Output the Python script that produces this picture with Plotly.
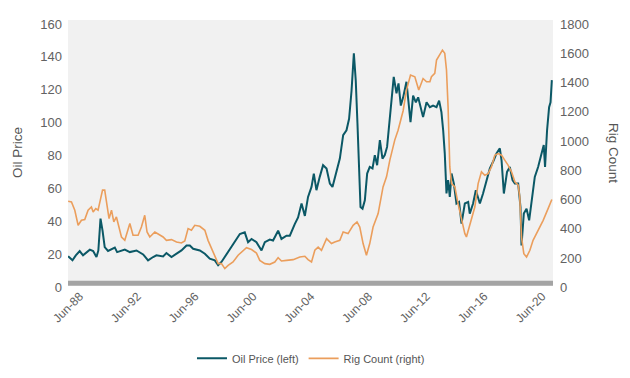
import plotly.graph_objects as go

# ---- data (decimal years on the chart's own time axis) ----
oil_year = [1987.20, 1987.50, 1987.73, 1988.00, 1988.23, 1988.47, 1988.70, 1988.93, 1989.16, 1989.29,
            1989.44, 1989.58, 1989.73, 1989.96, 1990.20, 1990.43, 1990.59, 1990.89, 1991.12, 1991.47,
            1991.93, 1992.39, 1992.73, 1993.08, 1993.31, 1993.77, 1994.00, 1994.35, 1994.70, 1995.04,
            1995.39, 1995.62, 1995.85, 1996.31, 1996.66, 1997.00, 1997.35, 1997.58, 1997.81, 1998.04,
            1998.39, 1998.73, 1999.08, 1999.42, 1999.65, 1999.89, 2000.23, 2000.58, 2000.81, 2001.15,
            2001.38, 2001.73, 2001.96, 2002.31, 2002.54, 2002.88, 2003.11, 2003.35, 2003.58, 2003.80,
            2004.04, 2004.20, 2004.38, 2004.61, 2004.84, 2005.08, 2005.31, 2005.49, 2005.77, 2006.00,
            2006.23, 2006.46, 2006.64, 2006.81, 2006.97, 2007.10, 2007.22, 2007.33, 2007.43, 2007.57,
            2007.73, 2007.89, 2008.07, 2008.26, 2008.42, 2008.58, 2008.77, 2008.95, 2009.11, 2009.27,
            2009.46, 2009.60, 2009.73, 2009.92, 2010.06, 2010.22, 2010.38, 2010.61, 2010.72, 2010.89,
            2011.07, 2011.26, 2011.42, 2011.58, 2011.76, 2012.00, 2012.23, 2012.45, 2012.69, 2012.87,
            2013.03, 2013.15, 2013.26, 2013.38, 2013.49, 2013.61, 2013.73, 2013.89, 2014.07, 2014.25,
            2014.42, 2014.65, 2014.88, 2014.99, 2015.22, 2015.41, 2015.69, 2015.91, 2016.15, 2016.38,
            2016.65, 2016.84, 2017.07, 2017.19, 2017.35, 2017.57, 2017.76, 2017.95, 2018.11, 2018.34,
            2018.50, 2018.57, 2018.73, 2018.92, 2019.10, 2019.26, 2019.49, 2019.72, 2019.95, 2020.11,
            2020.20, 2020.34, 2020.48, 2020.58, 2020.67]
oil_price = [16.5, 14, 17, 19.6, 17, 19, 20.5, 19.6, 16, 20,
             39.3, 32, 22, 19.7, 20.5, 21.7, 19, 20, 20.5, 19,
             20, 17.6, 14, 16, 17, 16.4, 18.4, 16, 18, 20,
             23, 23, 21, 20, 18, 15, 14, 11, 13, 16,
             21, 25, 30, 31, 25, 27, 25, 20, 25, 26.6,
             26, 32, 27, 29, 29, 36, 40, 48.5, 41, 52.5,
             58.6, 66.7, 56.6, 64.7, 71.8, 69.8, 60.6, 58.6, 67.7, 75.8,
             90, 93, 100, 117, 139.7, 123.5, 97, 66.7, 46.4, 45.4,
             50.5, 66.7, 70.7, 69.8, 77.9, 71.8, 87, 75.8, 77.9, 82.9,
             101, 117, 125.5, 115.4, 121.5, 108, 113, 122.5, 111, 98,
             114, 110, 113, 108, 101, 110, 107, 108, 107, 111,
             104, 93, 79, 54.6, 62.7, 52.5, 66.7, 60.6, 48.5, 49.5,
             36.3, 48.5, 49.5, 42.4, 48.5, 56.6, 48.5, 54.6, 62.7, 69.8,
             74.8, 78.9, 82, 74.8, 54.6, 67.7, 70.7, 62.7, 60.6, 60.6,
             46.4, 23, 42.4, 45.4, 38.3, 50.5, 64.7, 70.7, 77.9, 84,
             70.7, 93, 107, 110, 123.5]

rig_year = [1987.20, 1987.43, 1987.66, 1987.89, 1988.12, 1988.35, 1988.58, 1988.81, 1988.93, 1989.11,
            1989.27, 1989.44, 1989.58, 1989.73, 1989.85, 1990.03, 1990.20, 1990.36, 1990.54, 1990.72,
            1990.89, 1991.12, 1991.47, 1991.69, 1992.04, 1992.27, 1992.50, 1992.66, 1992.85, 1993.20,
            1993.54, 1993.77, 1994.00, 1994.35, 1994.70, 1995.04, 1995.27, 1995.50, 1995.73, 1995.96,
            1996.31, 1996.66, 1996.88, 1997.12, 1997.35, 1997.58, 1997.81, 1998.04, 1998.27, 1998.61,
            1998.96, 1999.31, 1999.54, 1999.89, 2000.23, 2000.46, 2000.81, 2001.15, 2001.50, 2001.73,
            2001.96, 2002.31, 2002.77, 2003.23, 2003.58, 2003.80, 2004.04, 2004.27, 2004.50, 2004.73,
            2005.08, 2005.42, 2005.65, 2006.00, 2006.23, 2006.57, 2006.92, 2007.19, 2007.38, 2007.61,
            2007.84, 2008.07, 2008.30, 2008.65, 2008.99, 2009.23, 2009.46, 2009.80, 2010.03, 2010.38,
            2010.61, 2010.89, 2011.19, 2011.46, 2011.76, 2012.00, 2012.23, 2012.34, 2012.57, 2012.69,
            2012.92, 2013.10, 2013.26, 2013.38, 2013.49, 2013.61, 2013.73, 2013.96, 2014.18, 2014.42,
            2014.65, 2014.76, 2014.99, 2015.34, 2015.57, 2015.80, 2016.03, 2016.26, 2016.49, 2016.72,
            2016.95, 2017.19, 2017.41, 2017.64, 2017.88, 2018.11, 2018.34, 2018.45, 2018.57, 2018.73,
            2018.92, 2019.15, 2019.37, 2019.72, 2020.07, 2020.41, 2020.67]
rig_count = [561, 556, 500, 397, 431, 436, 500, 522, 488, 511,
             500, 568, 637, 637, 546, 443, 500, 420, 454, 374,
             317, 294, 409, 329, 329, 385, 465, 351, 317, 351,
             329, 317, 294, 299, 283, 276, 290, 374, 363, 397,
             390, 363, 294, 238, 180, 135, 135, 101, 123, 146,
             192, 226, 244, 231, 207, 157, 135, 130, 146, 176,
             153, 157, 162, 180, 185, 162, 146, 226, 248, 226,
             306, 272, 283, 294, 351, 340, 397, 420, 385, 272,
             192, 272, 385, 477, 659, 728, 842, 979, 1047, 1180,
             1321, 1424, 1412, 1321, 1400, 1378, 1378, 1412, 1435, 1526,
             1560, 1594, 1572, 1458, 1206, 796, 682, 659, 545, 431,
             340, 317, 397, 522, 682, 762, 739, 750, 796, 876,
             887, 876, 842, 808, 762, 694, 671, 591, 317, 203,
             180, 226, 294, 363, 431, 511, 573]

tick_years = [1988.0, 1992.0, 1996.0, 2000.0, 2004.0, 2008.0, 2012.0, 2016.0, 2020.0]
tick_labels = ["Jun-88", "Jun-92", "Jun-96", "Jun-00", "Jun-04", "Jun-08", "Jun-12", "Jun-16", "Jun-20"]

TEAL = "#0b5866"
ORANGE = "#eb9e5c"
GREY_TXT = "#626262"
FONT = "Liberation Sans, Arial, sans-serif"

fig = go.Figure()
fig.add_trace(go.Scatter(x=oil_year, y=oil_price, name="Oil Price (left)", mode="lines",
                         line=dict(color=TEAL, width=2)))
fig.add_trace(go.Scatter(x=rig_year, y=rig_count, name="Rig Count (right)", mode="lines",
                         line=dict(color=ORANGE, width=1.6), yaxis="y2"))

# the page body adds an 8px offset, so the figure is 8px smaller with 8px less left/top margin
fig.update_layout(
    template="none",
    width=622, height=370,
    margin=dict(l=60, r=77, t=12, b=92, autoexpand=False),
    paper_bgcolor="white", plot_bgcolor="#f1f1f1",
    font=dict(family=FONT, color=GREY_TXT, size=13),
    xaxis=dict(range=[1987.19, 2020.75], tickmode="array", tickvals=tick_years, ticktext=tick_labels,
               tickangle=-45, showgrid=False, zeroline=False, showline=False, ticks="",
               automargin=False, tickfont=dict(size=12, color=GREY_TXT)),
    yaxis=dict(range=[-1.6, 160], tickmode="linear", tick0=0, dtick=20, showgrid=False,
               zeroline=False, showline=False, ticks="", ticklabelshift=4, ticklabelstandoff=5,
               automargin=False, tickfont=dict(size=13, color=GREY_TXT)),
    yaxis2=dict(range=[-18, 1800], overlaying="y", side="right", tickmode="linear", tick0=0,
                dtick=200, showgrid=False, zeroline=False, showline=False, ticks="",
                ticklabelshift=4, ticklabelstandoff=6, automargin=False,
                tickfont=dict(size=13, color=GREY_TXT)),
    legend=dict(orientation="h", x=0.501, xanchor="center", y=-0.272, yanchor="middle",
                font=dict(size=11, color="#555555"), bgcolor="rgba(0,0,0,0)"),
    shapes=[dict(type="line", xref="paper", x0=0, x1=1, yref="y", y0=0, y1=0,
                 line=dict(color="#a4a4a4", width=5), layer="above")],
    annotations=[
        dict(text="Oil Price", xref="paper", yref="paper", x=-0.105, y=0.5, showarrow=False,
             textangle=-90, font=dict(size=13.5, color="#555555"), xanchor="center", yanchor="middle"),
        dict(text="Rig Count", xref="paper", yref="paper", x=1.126, y=0.5, showarrow=False,
             textangle=90, font=dict(size=13.5, color="#555555"), xanchor="center", yanchor="middle"),
    ],
)

fig.write_html("out.html")
